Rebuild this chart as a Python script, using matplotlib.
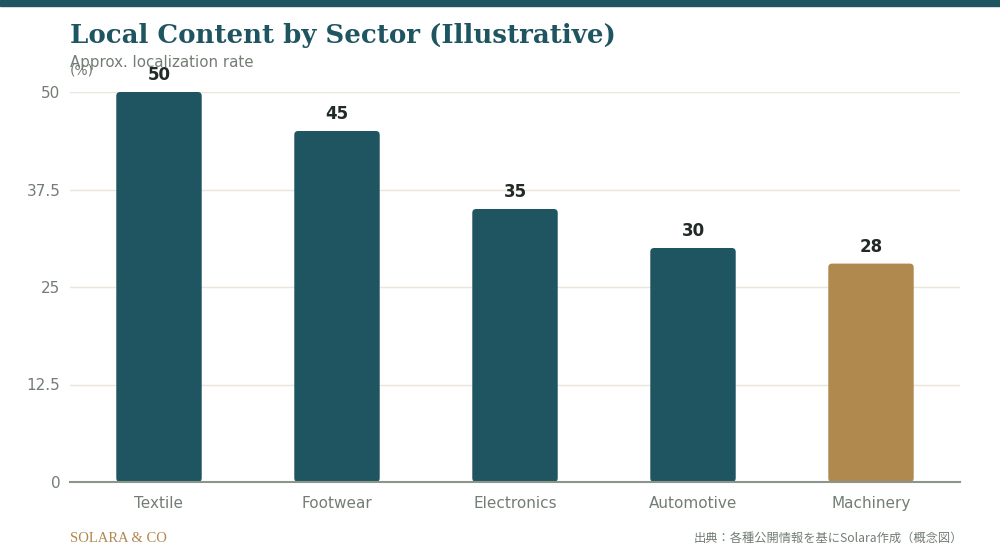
import matplotlib
matplotlib.use("Agg")
import matplotlib.pyplot as plt
from matplotlib.patches import FancyBboxPatch

plt.rcParams["font.family"] = ["DejaVu Sans"]

sectors = ["Textile", "Footwear", "Electronics", "Automotive", "Machinery"]
rates = [50, 45, 35, 30, 28]
highlight = "Machinery"
yticks = [0, 12.5, 25, 37.5, 50]
ytick_labels = ["0", "12.5", "25", "37.5", "50"]

teal = "#1f5561"
gold = "#b0894f"
grey = "#737d74"

fig = plt.figure(figsize=(10, 5.6), dpi=100)
fig.patch.set_facecolor("white")

# top band
fig.add_artist(plt.Rectangle((0, 1 - 6 / 560), 1, 6 / 560, transform=fig.transFigure,
                             color=teal, zorder=5))

ax = fig.add_axes([0.07, 1 - 482 / 560, 0.89, 390 / 560])
ax.set_xlim(-0.5, len(sectors) - 0.5)
ax.set_ylim(0, 50)

bar_w = 0.48
px_per_x = 890 / len(sectors)
px_per_y = 390 / 50
for i, (name, val) in enumerate(zip(sectors, rates)):
    color = gold if name == highlight else teal
    box = FancyBboxPatch((i - bar_w / 2, 0), bar_w, val,
                         boxstyle="round,pad=0,rounding_size=0.022",
                         mutation_aspect=px_per_x / px_per_y,
                         facecolor=color, edgecolor="none", zorder=3)
    ax.add_patch(box)
    ax.text(i, val + 1.0, str(val), ha="center", va="bottom", fontsize=12,
            fontweight="bold", color="#222a28", zorder=4)

ax.set_xticks(range(len(sectors)))
ax.set_xticklabels(sectors)
ax.set_yticks(yticks)
ax.set_yticklabels(ytick_labels)
ax.tick_params(axis="both", length=0, labelsize=11, labelcolor=grey)
ax.tick_params(axis="x", pad=10)
ax.tick_params(axis="y", pad=7)
ax.grid(axis="y", color="#ebe5da", linewidth=1, zorder=0)
ax.set_axisbelow(True)
for s in ["top", "right", "left"]:
    ax.spines[s].set_visible(False)
ax.spines["bottom"].set_color("#8c958b")
ax.spines["bottom"].set_linewidth(1.5)
ax.spines["bottom"].set_zorder(5)

fig.text(0.07, 1 - 35 / 560, "Local Content by Sector (Illustrative)",
         fontsize=18.7, fontweight="bold", family="DejaVu Serif", color=teal, va="center")
fig.text(0.07, 1 - 62 / 560, "Approx. localization rate", fontsize=10.8,
         color=grey, va="center")
fig.text(0.07, 1 - 71 / 560, "(%)", fontsize=10, color=grey, va="center")

fig.text(0.07, 1 - 538 / 560, "SOLARA & CO", fontsize=10.5, family="Liberation Serif",
         color=gold, va="center")
fig.text(0.963, 1 - 538 / 560, "出典：各種公開情報を基にSolara作成（概念図）", fontsize=8.8,
         family=["Noto Sans CJK JP", "DejaVu Sans"], color=grey, va="center", ha="right")

fig.savefig("out.png", dpi=100)
